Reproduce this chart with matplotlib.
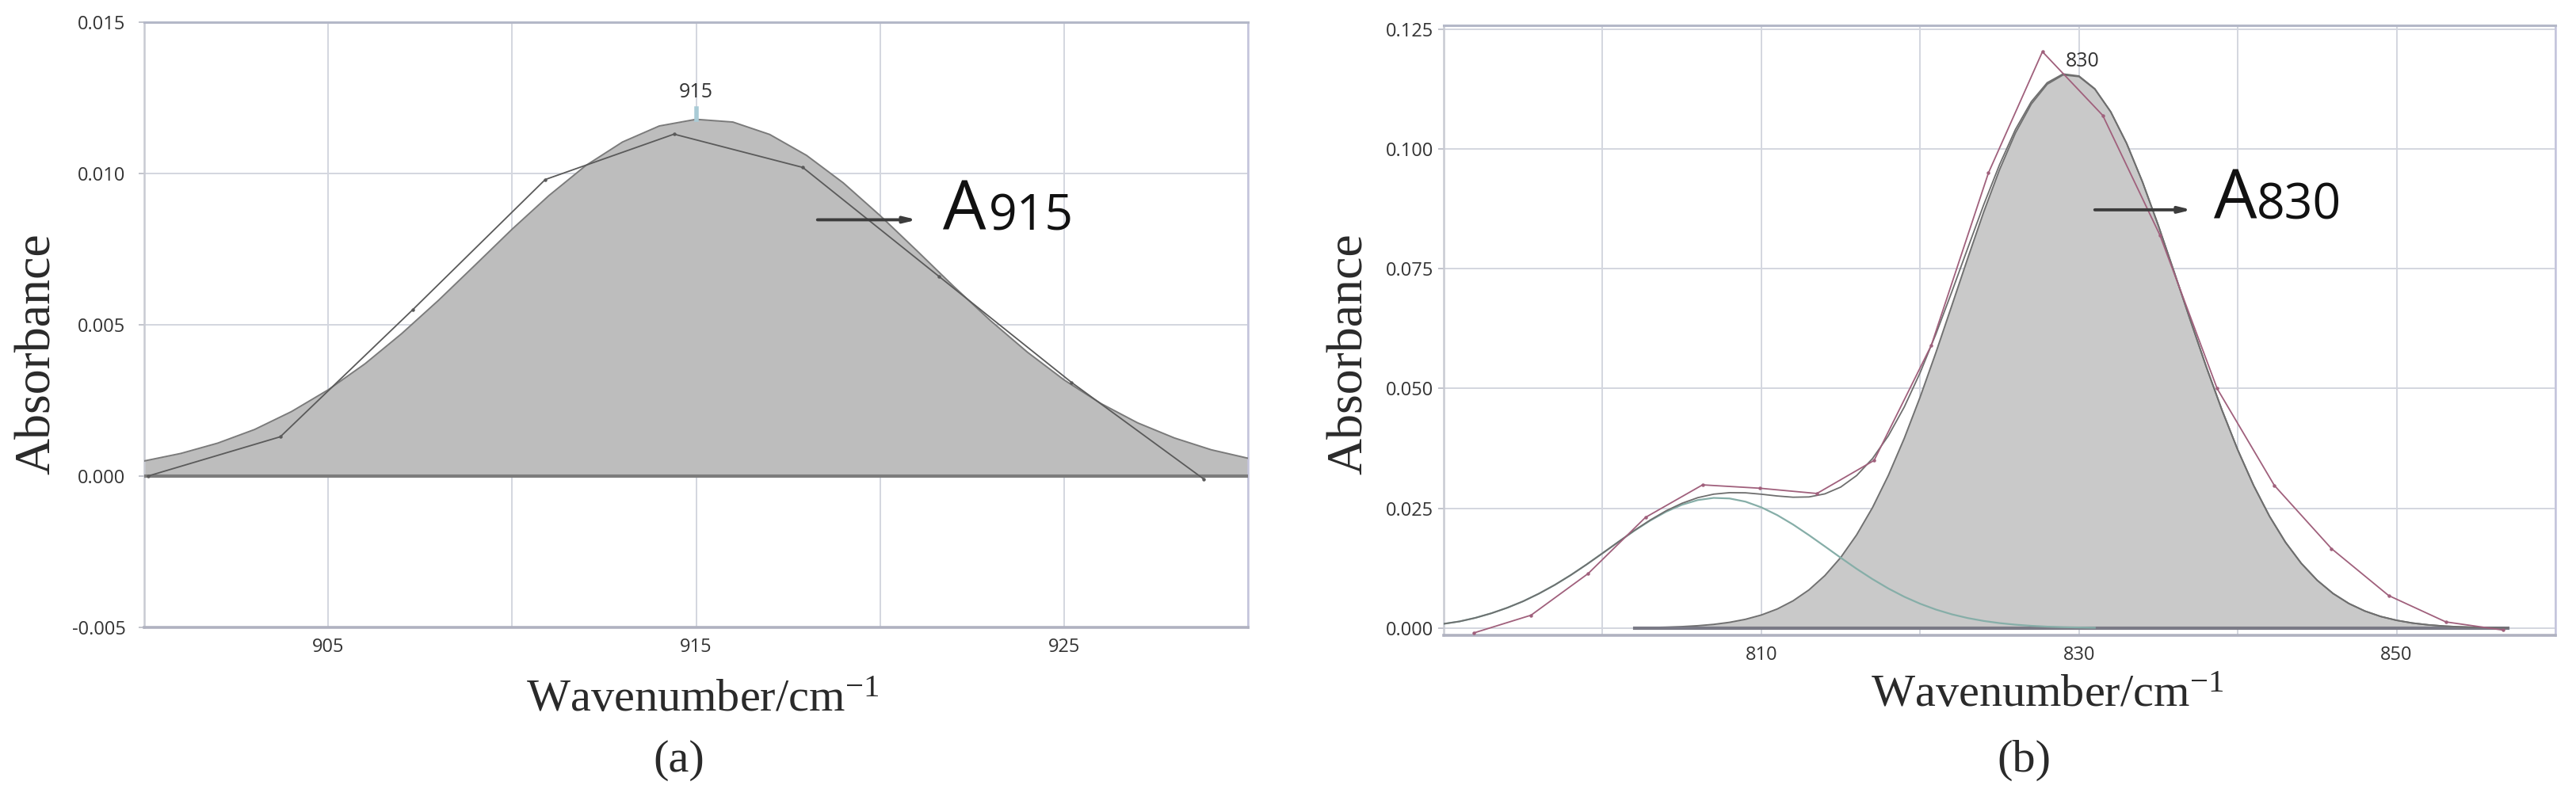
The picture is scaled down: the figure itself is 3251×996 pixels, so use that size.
import numpy as np
import matplotlib
matplotlib.use("Agg")
import matplotlib.pyplot as plt

plt.rcParams['mathtext.fontset'] = 'custom'
plt.rcParams['mathtext.rm'] = 'Liberation Serif'
plt.rcParams['mathtext.it'] = 'Liberation Serif:italic'

# ---- panel (a): 915 band ----
fit_a_x = list(range(900, 931))
fit_a_y = [0.00050, 0.00075, 0.00109, 0.00154, 0.00213, 0.00285, 0.00371, 0.00471,
           0.00581, 0.00698, 0.00816, 0.00927, 0.01026, 0.01104, 0.01157, 0.01179,
           0.01170, 0.01129, 0.01060, 0.00969, 0.00861, 0.00745, 0.00627, 0.00514,
           0.00410, 0.00318, 0.00240, 0.00176, 0.00126, 0.00087, 0.00059]
raw_a_x = [900.1, 903.7, 907.3, 910.9, 914.4, 917.9, 921.6, 925.2, 928.8]
raw_a_y = [0.0000, 0.0013, 0.0055, 0.0098, 0.0113, 0.0102, 0.0066, 0.0031, -0.0001]
xticks_a = [900, 905, 910, 915, 920, 925, 930]
xlabels_a = ['', '905', '', '915', '', '925', '']
yticks_a = [-0.005, 0.000, 0.005, 0.010, 0.015]

# ---- panel (b): 830 band + 807 shoulder ----
fit_b_x = list(range(802, 858))
fit_b_y = [0.00007, 0.00011, 0.00019, 0.00031, 0.00050, 0.00078, 0.00121, 0.00184,
           0.00274, 0.00399, 0.00570, 0.00798, 0.01096, 0.01475, 0.01946, 0.02515,
           0.03188, 0.03960, 0.04823, 0.05757, 0.06736, 0.07722, 0.08683, 0.09568,
           0.10335, 0.10939, 0.11352, 0.11546, 0.11511, 0.11249, 0.10776, 0.10118,
           0.09313, 0.08401, 0.07428, 0.06439, 0.05470, 0.04556, 0.03719, 0.02976,
           0.02334, 0.01794, 0.01352, 0.00999, 0.00723, 0.00513, 0.00357, 0.00243,
           0.00163, 0.00106, 0.00068, 0.00042, 0.00026, 0.00016, 0.00010, 0.00005]
side_b_x = list(range(790, 832))
side_b_y = [0.00090, 0.00140, 0.00215, 0.00310, 0.00425, 0.00560, 0.00721, 0.00903,
            0.01107, 0.01329, 0.01563, 0.01800, 0.02031, 0.02244, 0.02429, 0.02574,
            0.02673, 0.02718, 0.02706, 0.02640, 0.02521, 0.02359, 0.02162, 0.01940,
            0.01706, 0.01469, 0.01238, 0.01023, 0.00827, 0.00655, 0.00509, 0.00387,
            0.00288, 0.00210, 0.00150, 0.00105, 0.00072, 0.00048, 0.00031, 0.00020,
            0.00013, 0.00008]
raw_b_x = [791.9, 795.5, 799.1, 802.7, 806.3, 809.9, 813.5, 817.1, 820.7, 824.3,
           827.7, 831.5, 835.1, 838.7, 842.3, 845.9, 849.5, 853.1, 856.7]
raw_b_y = [-0.0010, 0.0027, 0.0114, 0.0231, 0.0299, 0.0292, 0.0281, 0.0350, 0.0590,
           0.0950, 0.1203, 0.1070, 0.0820, 0.0500, 0.0298, 0.0166, 0.0068, 0.0013,
           -0.0004]
xticks_b = [790, 800, 810, 820, 830, 840, 850, 860]
xlabels_b = ['', '', '810', '', '830', '', '850', '']
yticks_b = [0.000, 0.025, 0.050, 0.075, 0.100, 0.125]

W, H = 3251, 996
fig = plt.figure(figsize=(W / 100, H / 100), dpi=100)
ax_a = fig.add_axes([182 / W, 1 - 792 / H, (1575 - 182) / W, (792 - 28) / H])
ax_b = fig.add_axes([1822 / W, 1 - 802 / H, (3225 - 1822) / W, (802 - 32) / H])

grid_c = '#d3d6df'
tick_font = dict(family='Open Sans', size=17, color='#333333')


def style_axes(ax, ypad):
    ax.grid(True, color=grid_c, lw=1.4, zorder=0)
    ax.set_axisbelow(True)
    ax.spines['top'].set_color('#b4b8c8')
    ax.spines['top'].set_linewidth(2.2)
    ax.spines['right'].set_color('#c4c4dc')
    ax.spines['right'].set_linewidth(1.8)
    ax.spines['left'].set_color('#c8cad2')
    ax.spines['left'].set_linewidth(1.8)
    ax.spines['bottom'].set_color('#b0b2c0')
    ax.spines['bottom'].set_linewidth(2.6)
    ax.tick_params(axis='x', length=0, pad=9)
    ax.tick_params(axis='y', length=5, width=1.2, color='#b8bac4', pad=ypad)
    for lab in ax.get_xticklabels() + ax.get_yticklabels():
        lab.set_fontfamily(tick_font['family'])
        lab.set_fontsize(tick_font['size'])
        lab.set_color(tick_font['color'])
        lab.set_fontweight('medium')


# panel (a)
ax_a.fill_between(fit_a_x, 0, fit_a_y, color='#bdbdbd', lw=0, zorder=2)
ax_a.plot(fit_a_x, fit_a_y, color='#7a7a7a', lw=1.4, zorder=3)
ax_a.axhline(0, color='#7c7c7c', lw=3, zorder=3)
ax_a.plot(raw_a_x, raw_a_y, color='#5a5a5a', lw=1.3, marker='o', ms=2.2, zorder=4)
ax_a.plot([915, 915], [0.01179, 0.01215], color='#a9cbd6', lw=4, zorder=4)
ax_a.text(915, 0.01236, '915', family='Open Sans', fontsize=18, color='#333333',
          ha='center', va='bottom')
ax_a.annotate('', xy=(921.0, 0.00847), xytext=(918.3, 0.00847),
              arrowprops=dict(arrowstyle='-|>,head_length=0.9,head_width=0.22',
                              color='#3c3c3c', lw=2.8, shrinkA=0, shrinkB=0), zorder=5)
ax_a.text(921.71, 0.00814, 'A', family='Open Sans', fontsize=62, color='#111111',
          ha='left', va='baseline', fontweight='medium')
ax_a.text(922.95, 0.00814, '915', family='Open Sans', fontsize=45, color='#111111',
          ha='left', va='baseline')
ax_a.set_xlim(900, 930)
ax_a.set_ylim(-0.005, 0.015)
ax_a.set_xticks(xticks_a)
ax_a.set_xticklabels(xlabels_a)
ax_a.set_yticks(yticks_a)
ax_a.set_yticklabels(['%.3f' % v for v in yticks_a])
style_axes(ax_a, 12)

# panel (b)
sum_x = np.arange(790, 858)
sum_y = np.zeros(len(sum_x))
sum_y[np.isin(sum_x, side_b_x)] += np.array(side_b_y)
sum_y[np.isin(sum_x, fit_b_x)] += np.array(fit_b_y)

ax_b.fill_between(fit_b_x, 0, fit_b_y, color='#c9c9c9', lw=0, zorder=2)
ax_b.plot(fit_b_x, fit_b_y, color='#707070', lw=1.4, zorder=3)
ax_b.plot([fit_b_x[0], fit_b_x[-1]], [0, 0], color='#7a7a86', lw=3, zorder=3)
ax_b.plot(side_b_x, side_b_y, color='#86aea8', lw=1.6, zorder=3)
ax_b.plot(sum_x, sum_y, color='#6e6e6e', lw=1.3, zorder=4)
ax_b.plot(raw_b_x, raw_b_y, color='#a0607c', lw=1.3, marker='o', ms=2.2, zorder=5)
ax_b.text(830.2, 0.1162, '830', family='Open Sans', fontsize=18, color='#333333',
          ha='center', va='bottom')
ax_b.annotate('', xy=(837.1, 0.0873), xytext=(831.0, 0.0873),
              arrowprops=dict(arrowstyle='-|>,head_length=0.9,head_width=0.22',
                              color='#3c3c3c', lw=2.8, shrinkA=0, shrinkB=0), zorder=5)
ax_b.text(838.5, 0.0854, 'A', family='Open Sans', fontsize=62, color='#111111',
          ha='left', va='baseline', fontweight='medium')
ax_b.text(841.2, 0.0854, '830', family='Open Sans', fontsize=45, color='#111111',
          ha='left', va='baseline')
ax_b.set_xlim(790, 860)
ax_b.set_ylim(-0.0015, 0.1258)
ax_b.set_xticks(xticks_b)
ax_b.set_xticklabels(xlabels_b)
ax_b.set_yticks(yticks_b)
ax_b.set_yticklabels(['%.3f' % v for v in yticks_b])
style_axes(ax_b, 4)

# axis titles and panel letters
serif = dict(family='Liberation Serif', color='#2a2a2a')
for xc, lab in [(48, 'Absorbance'), (1704, 'Absorbance')]:
    fig.text(xc / W, 1 - 447 / H, lab, rotation=90, ha='center', va='center',
             fontsize=46, **serif)
for xc, yc in [(887, 884), (2584, 878)]:
    fig.text(xc / W, 1 - yc / H, 'Wavenumber/cm$^{\\mathrm{-1}}$', ha='center',
             va='center', fontsize=42, **serif)
for xc, lab in [(857, '(a)'), (2554, '(b)')]:
    fig.text(xc / W, 1 - 960 / H, lab, ha='center', va='center', fontsize=42, **serif)

fig.savefig('out.png', dpi=100, facecolor='white')
